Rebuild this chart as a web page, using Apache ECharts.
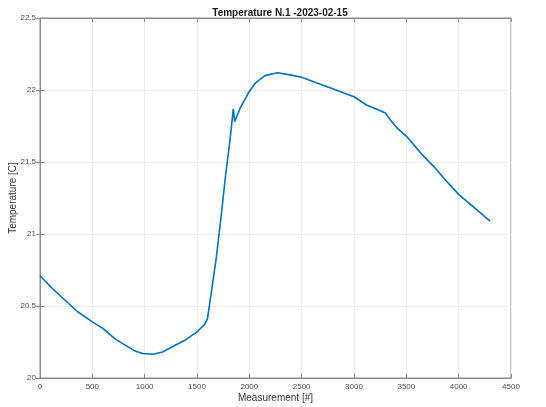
<!DOCTYPE html>
<html>
<head>
<meta charset="utf-8">
<script src="https://cdn.jsdelivr.net/npm/echarts@6/dist/echarts.min.js"></script>
<style>
  html, body { margin: 0; padding: 0; background: #fff; }
  #chart { width: 546px; height: 407px; }
</style>
</head>
<body>
<div id="chart"></div>
<script>
var measurements = [0, 120, 240, 360, 500, 600, 720, 810, 900, 980, 1080, 1170, 1260, 1380, 1500, 1570, 1600,
  1640, 1685, 1730, 1775, 1815, 1847, 1860, 1910, 2000, 2060, 2150, 2270, 2390, 2500, 2640, 2790, 2910,
  3000, 3120, 3240, 3300, 3350, 3420, 3500, 3640, 3760, 3880, 4000, 4130, 4300];
var temperatures = [20.71, 20.62, 20.54, 20.46, 20.39, 20.345, 20.27, 20.23, 20.19, 20.17, 20.165, 20.18, 20.215, 20.26, 20.32, 20.37, 20.41,
  20.61, 20.84, 21.12, 21.42, 21.65, 21.87, 21.78, 21.87, 21.99, 22.05, 22.10, 22.12, 22.105, 22.088, 22.05, 22.01, 21.977,
  21.953, 21.896, 21.86, 21.84, 21.79, 21.73, 21.68, 21.56, 21.47, 21.37, 21.275, 21.195, 21.09];

var chart = echarts.init(document.getElementById("chart"));

var points = measurements.map(function(m, i) {
  return [m, temperatures[i]];
});

var font = "Liberation Sans, Arial, sans-serif";
var boxColor = "#8c8c8c";
var gridColor = "#ececec";

var option = {
  animation: false,
  title: {
    text: "Temperature N.1 -2023-02-15",
    left: 275,
    textAlign: "center",
    top: 3,
    textStyle: { fontFamily: font, fontSize: 10, fontWeight: "bold", color: "#1a1a1a" }
  },
  grid: {
    left: 40,
    right: 35,
    top: 18,
    bottom: 29,
    containLabel: false,
    outerBoundsMode: "none",
    show: true,
    borderColor: boxColor,
    borderWidth: 1
  },
  xAxis: [
    {
      type: "value",
      min: 0,
      max: 4500,
      interval: 500,
      name: "Measurement [#]",
      nameLocation: "middle",
      nameGap: 15,
      nameMoveOverlap: false,
      nameTextStyle: { fontFamily: font, fontSize: 10, color: "#333" },
      axisLine: { show: true, lineStyle: { color: boxColor } },
      axisTick: { show: true, inside: true, length: 4, lineStyle: { color: boxColor } },
      axisLabel: {
        fontFamily: font, fontSize: 8, color: "#4d4d4d", margin: 5,
        formatter: function(v) { return String(v); }
      },
      splitLine: { show: true, lineStyle: { color: gridColor } }
    },
    {
      type: "value",
      position: "top",
      min: 0,
      max: 4500,
      interval: 500,
      axisLine: { show: true, lineStyle: { color: boxColor } },
      axisTick: { show: true, inside: true, length: 4, lineStyle: { color: boxColor } },
      axisLabel: { show: false },
      splitLine: { show: false }
    }
  ],
  yAxis: [
    {
      type: "value",
      min: 20,
      max: 22.5,
      interval: 0.5,
      name: "Temperature [C]",
      nameLocation: "middle",
      nameGap: 22,
      nameMoveOverlap: false,
      nameTextStyle: { fontFamily: font, fontSize: 10, color: "#333" },
      axisLine: { show: true, lineStyle: { color: boxColor } },
      axisTick: { show: true, inside: true, length: 4, lineStyle: { color: boxColor } },
      axisLabel: { fontFamily: font, fontSize: 8, color: "#4d4d4d", margin: 4 },
      splitLine: { show: true, lineStyle: { color: gridColor } }
    },
    {
      type: "value",
      position: "right",
      min: 20,
      max: 22.5,
      interval: 0.5,
      axisLine: { show: true, lineStyle: { color: boxColor } },
      axisTick: { show: true, inside: true, length: 4, lineStyle: { color: boxColor } },
      axisLabel: { show: false },
      splitLine: { show: false }
    }
  ],
  series: [
    {
      name: "Temperature",
      type: "line",
      data: points,
      showSymbol: false,
      smooth: false,
      lineStyle: { color: "#0072bd", width: 1.6 }
    }
  ]
};

chart.setOption(option);
</script>
</body>
</html>
